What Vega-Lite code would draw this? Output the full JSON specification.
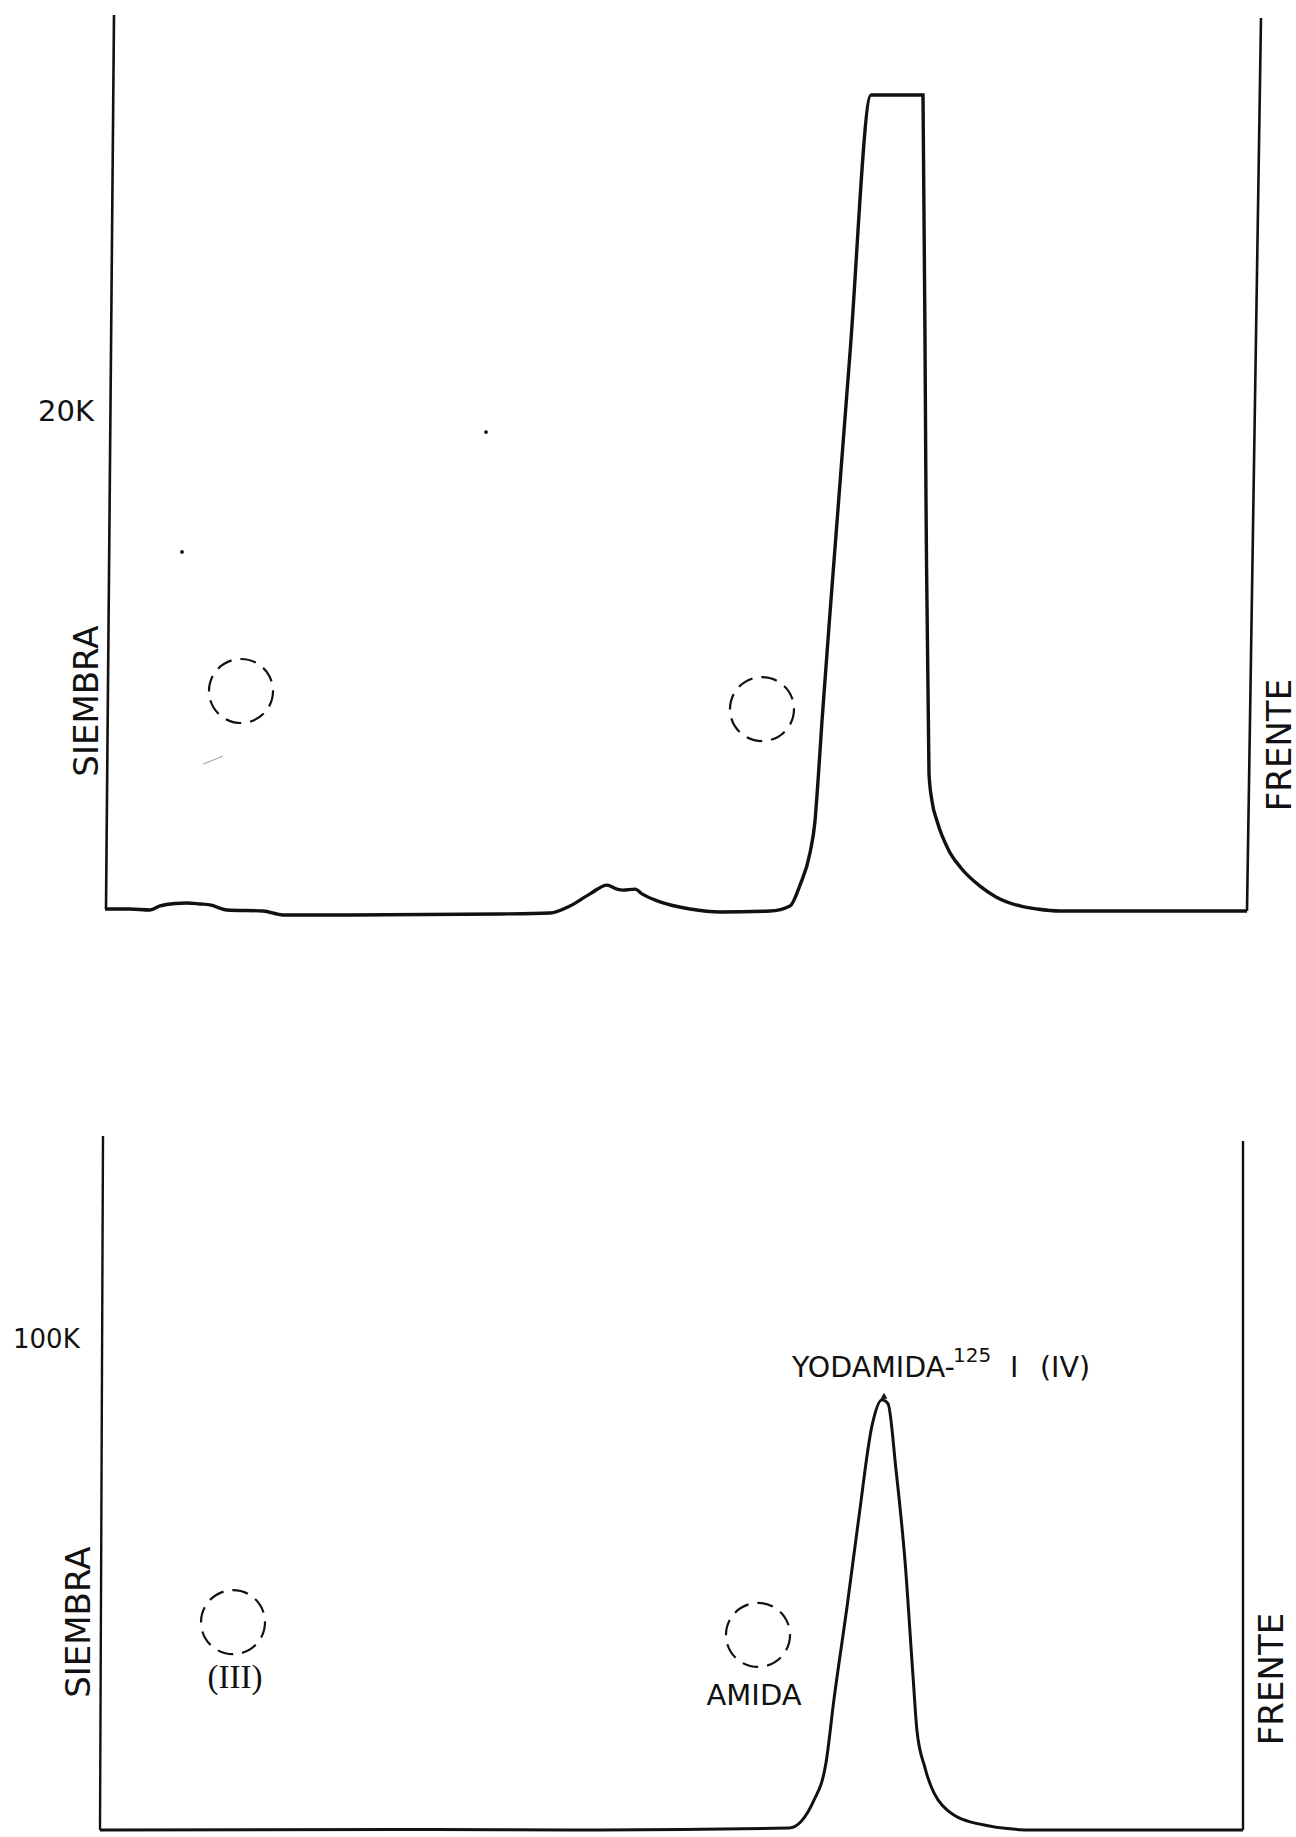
{
  "$schema": "https://vega.github.io/schema/vega-lite/v6.json",
  "background": "white",
  "padding": {"left": 13, "top": 9, "right": 4, "bottom": 4},
  "spacing": 209,
  "config": {"view": {"stroke": null}},
  "datasets": {
    "top_axes": [
      {"side": "SIEMBRA", "x": 14, "k": 35.8},
      {"side": "SIEMBRA", "x": 6, "k": 0.24},
      {"side": "FRENTE", "x": 1161, "k": 35.68},
      {"side": "FRENTE", "x": 1147, "k": 0.16}
    ],
    "top_curve": [
      {"x": 5, "k": 0.24}, {"x": 30, "k": 0.24}, {"x": 50, "k": 0.2}, {"x": 60, "k": 0.36},
      {"x": 75, "k": 0.46}, {"x": 87, "k": 0.48}, {"x": 100, "k": 0.44}, {"x": 110, "k": 0.4},
      {"x": 127, "k": 0.2}, {"x": 163, "k": 0.16}, {"x": 183, "k": 0.0}, {"x": 250, "k": 0.0},
      {"x": 400, "k": 0.04}, {"x": 450, "k": 0.08}, {"x": 470, "k": 0.36}, {"x": 490, "k": 0.84},
      {"x": 507, "k": 1.19}, {"x": 517, "k": 1.03}, {"x": 523, "k": 0.99}, {"x": 535, "k": 1.03},
      {"x": 542, "k": 0.84}, {"x": 560, "k": 0.52}, {"x": 590, "k": 0.24}, {"x": 620, "k": 0.12},
      {"x": 670, "k": 0.16}, {"x": 690, "k": 0.36}, {"x": 700, "k": 1.19}, {"x": 710, "k": 2.47},
      {"x": 715, "k": 3.74}, {"x": 718, "k": 5.33}, {"x": 722, "k": 7.72}, {"x": 732, "k": 13.05},
      {"x": 750, "k": 22.35}, {"x": 771, "k": 32.62}, {"x": 823, "k": 32.62}, {"x": 826, "k": 16.47},
      {"x": 829, "k": 5.61}, {"x": 832, "k": 4.53}, {"x": 837, "k": 3.74}, {"x": 848, "k": 2.63},
      {"x": 861, "k": 1.87}, {"x": 880, "k": 1.15}, {"x": 896, "k": 0.72}, {"x": 920, "k": 0.36},
      {"x": 937, "k": 0.24}, {"x": 960, "k": 0.16}, {"x": 1147, "k": 0.16}
    ],
    "top_spots": [{"x": 141, "k": 8.91}, {"x": 662, "k": 8.19}],
    "top_dots": [{"x": 82, "k": 14.44}, {"x": 386, "k": 19.21}],
    "top_scratch": [{"x": 103, "k": 6.0}, {"x": 123, "k": 6.32}],
    "top_vlabels": [
      {"x": -12, "k": 8.51, "label": "SIEMBRA"},
      {"x": 1181, "k": 6.76, "label": "FRENTE"}
    ],
    "top_ylabel": [{"x": -6, "k": 20, "label": "20K"}],
    "bot_axes": [
      {"side": "SIEMBRA", "x": 3, "k": 141.6},
      {"side": "SIEMBRA", "x": 0, "k": 0},
      {"side": "FRENTE", "x": 1143, "k": 140.6},
      {"side": "FRENTE", "x": 1143, "k": 0}
    ],
    "bot_curve": [
      {"x": 0, "k": 0}, {"x": 300, "k": 0.1}, {"x": 500, "k": 0}, {"x": 689, "k": 0.4},
      {"x": 714, "k": 6.1}, {"x": 726, "k": 13.7}, {"x": 734, "k": 26.7}, {"x": 747, "k": 45.5},
      {"x": 759, "k": 64.0}, {"x": 772, "k": 82.5}, {"x": 782, "k": 87.8}, {"x": 788, "k": 87.0},
      {"x": 796, "k": 73.5}, {"x": 805, "k": 54.9}, {"x": 813, "k": 31.4}, {"x": 817, "k": 20.2},
      {"x": 825, "k": 12.7}, {"x": 842, "k": 5.1}, {"x": 875, "k": 1.4}, {"x": 933, "k": 0},
      {"x": 1143, "k": 0}
    ],
    "bot_tip": [{"x": 784, "k": 88.6}],
    "bot_spots": [{"x": 133, "k": 42.4}, {"x": 658, "k": 39.8}],
    "bot_vlabels": [
      {"x": -20, "k": 42.4, "label": "SIEMBRA"},
      {"x": 1173, "k": 30.8, "label": "FRENTE"}
    ],
    "bot_ylabel": [{"x": -87, "k": 100, "label": "100K"}],
    "bot_names": [
      {"x": 654, "k": 27.3, "label": "AMIDA"}
    ],
    "bot_roman": [{"x": 135, "k": 31, "label": "(III)"}],
    "bot_peakname": [
      {"x": 692, "k": 92.4, "label": "YODAMIDA-"},
      {"x": 910, "k": 92.4, "label": "I"},
      {"x": 940, "k": 92.4, "label": "(IV)"}
    ],
    "bot_sup": [{"x": 853, "k": 95.5, "label": "125"}]
  },
  "vconcat": [
    {
      "width": 1165,
      "height": 900,
      "layer": [
        {
          "data": {"name": "top_axes"},
          "mark": {"type": "line", "stroke": "#111", "strokeWidth": 2.6},
          "encoding": {
            "x": {"field": "x", "type": "quantitative", "scale": {"domain": [0, 1165], "nice": false, "zero": false}, "axis": null},
            "y": {"field": "k", "type": "quantitative", "scale": {"domain": [0, 35.8], "nice": false, "zero": false}, "axis": null},
            "detail": {"field": "side"}
          }
        },
        {
          "data": {"name": "top_curve"},
          "mark": {"type": "line", "stroke": "#111", "strokeWidth": 3.4, "interpolate": "monotone"},
          "encoding": {
            "x": {"field": "x", "type": "quantitative"},
            "y": {"field": "k", "type": "quantitative"}
          }
        },
        {
          "data": {"name": "top_spots"},
          "mark": {"type": "point", "shape": "circle", "size": 4100, "filled": false, "stroke": "#111", "strokeWidth": 2.2, "strokeDash": [16, 9], "opacity": 1},
          "encoding": {
            "x": {"field": "x", "type": "quantitative"},
            "y": {"field": "k", "type": "quantitative"}
          }
        },
        {
          "data": {"name": "top_dots"},
          "mark": {"type": "point", "shape": "circle", "size": 14, "filled": true, "color": "#111", "opacity": 1},
          "encoding": {
            "x": {"field": "x", "type": "quantitative"},
            "y": {"field": "k", "type": "quantitative"}
          }
        },
        {
          "data": {"name": "top_scratch"},
          "mark": {"type": "line", "stroke": "#999", "strokeWidth": 1},
          "encoding": {
            "x": {"field": "x", "type": "quantitative"},
            "y": {"field": "k", "type": "quantitative"}
          }
        },
        {
          "data": {"name": "top_vlabels"},
          "mark": {"type": "text", "angle": 270, "align": "center", "baseline": "middle", "font": "DejaVu Sans", "fontSize": 34, "color": "#111"},
          "encoding": {
            "x": {"field": "x", "type": "quantitative"},
            "y": {"field": "k", "type": "quantitative"},
            "text": {"field": "label"}
          }
        },
        {
          "data": {"name": "top_ylabel"},
          "mark": {"type": "text", "align": "right", "baseline": "middle", "font": "DejaVu Sans", "fontSize": 29, "color": "#111"},
          "encoding": {
            "x": {"field": "x", "type": "quantitative"},
            "y": {"field": "k", "type": "quantitative"},
            "text": {"field": "label"}
          }
        }
      ]
    },
    {
      "width": 1165,
      "height": 694,
      "layer": [
        {
          "data": {"name": "bot_axes"},
          "mark": {"type": "line", "stroke": "#111", "strokeWidth": 2.4},
          "encoding": {
            "x": {"field": "x", "type": "quantitative", "scale": {"domain": [0, 1165], "nice": false, "zero": false}, "axis": null},
            "y": {"field": "k", "type": "quantitative", "scale": {"domain": [0, 141.6], "nice": false, "zero": false}, "axis": null},
            "detail": {"field": "side"}
          }
        },
        {
          "data": {"name": "bot_curve"},
          "mark": {"type": "line", "stroke": "#111", "strokeWidth": 3, "interpolate": "monotone"},
          "encoding": {
            "x": {"field": "x", "type": "quantitative"},
            "y": {"field": "k", "type": "quantitative"}
          }
        },
        {
          "data": {"name": "bot_tip"},
          "mark": {"type": "point", "shape": "triangle-up", "size": 45, "filled": true, "color": "#111", "opacity": 1},
          "encoding": {
            "x": {"field": "x", "type": "quantitative"},
            "y": {"field": "k", "type": "quantitative"}
          }
        },
        {
          "data": {"name": "bot_spots"},
          "mark": {"type": "point", "shape": "circle", "size": 4100, "filled": false, "stroke": "#111", "strokeWidth": 2.2, "strokeDash": [16, 9], "opacity": 1},
          "encoding": {
            "x": {"field": "x", "type": "quantitative"},
            "y": {"field": "k", "type": "quantitative"}
          }
        },
        {
          "data": {"name": "bot_vlabels"},
          "mark": {"type": "text", "angle": 270, "align": "center", "baseline": "middle", "font": "DejaVu Sans", "fontSize": 34, "color": "#111"},
          "encoding": {
            "x": {"field": "x", "type": "quantitative"},
            "y": {"field": "k", "type": "quantitative"},
            "text": {"field": "label"}
          }
        },
        {
          "data": {"name": "bot_ylabel"},
          "mark": {"type": "text", "align": "left", "baseline": "middle", "font": "DejaVu Sans", "fontSize": 26, "color": "#111"},
          "encoding": {
            "x": {"field": "x", "type": "quantitative"},
            "y": {"field": "k", "type": "quantitative"},
            "text": {"field": "label"}
          }
        },
        {
          "data": {"name": "bot_names"},
          "mark": {"type": "text", "align": "center", "baseline": "middle", "font": "DejaVu Sans", "fontSize": 29, "color": "#111"},
          "encoding": {
            "x": {"field": "x", "type": "quantitative"},
            "y": {"field": "k", "type": "quantitative"},
            "text": {"field": "label"}
          }
        },
        {
          "data": {"name": "bot_roman"},
          "mark": {"type": "text", "align": "center", "baseline": "middle", "font": "Liberation Serif", "fontSize": 33, "color": "#111"},
          "encoding": {
            "x": {"field": "x", "type": "quantitative"},
            "y": {"field": "k", "type": "quantitative"},
            "text": {"field": "label"}
          }
        },
        {
          "data": {"name": "bot_peakname"},
          "mark": {"type": "text", "align": "left", "baseline": "alphabetic", "font": "DejaVu Sans", "fontSize": 28.5, "color": "#111"},
          "encoding": {
            "x": {"field": "x", "type": "quantitative"},
            "y": {"field": "k", "type": "quantitative"},
            "text": {"field": "label"}
          }
        },
        {
          "data": {"name": "bot_sup"},
          "mark": {"type": "text", "align": "left", "baseline": "alphabetic", "font": "DejaVu Sans", "fontSize": 20, "color": "#111"},
          "encoding": {
            "x": {"field": "x", "type": "quantitative"},
            "y": {"field": "k", "type": "quantitative"},
            "text": {"field": "label"}
          }
        }
      ]
    }
  ]
}
